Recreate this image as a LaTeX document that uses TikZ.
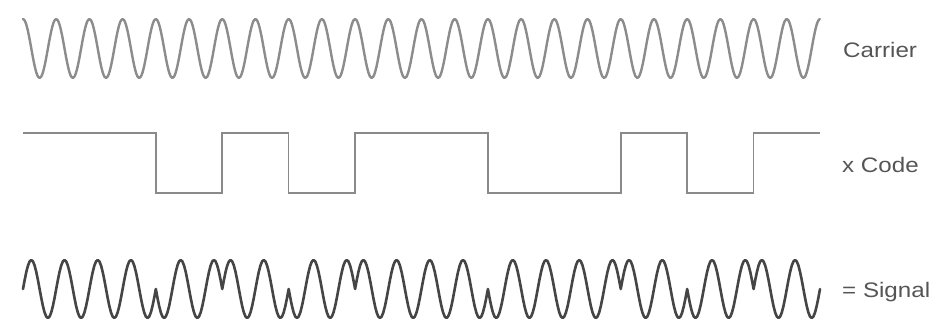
\documentclass[tikz,border=0pt]{standalone}
\usepackage{fontspec}
\setmainfont{Liberation Sans}
\definecolor{carriergray}{HTML}{8C8C8C}
\definecolor{codegray}{HTML}{8A8A8A}
\definecolor{signalgray}{HTML}{454545}
\definecolor{labelgray}{HTML}{555555}
\begin{document}
\begin{tikzpicture}[x=1pt,y=-1pt,
  carrier/.style={draw=carriergray,line width=2.4pt,line join=round,line cap=round},
  codeline/.style={draw=codegray,line width=1.6pt,line join=miter},
  signal/.style={draw=signalgray,line width=2.6pt,line join=round,line cap=round},
  lbl/.style={anchor=base west,inner sep=0pt,text=labelgray,font=\fontsize{21}{25}\selectfont}]
\useasboundingbox[fill=white] (0,0) rectangle (947,331);
\def\P{33.2083}
% carrier
\draw[carrier] plot[domain=0:24,samples=481,smooth] ({23+\P*\x},{48.5-29.5*cos(360*\x)});
% code
\draw[codeline] ({23},133)
  -- ({23+4*\P},133) -- ({23+4*\P},193) -- ({23+6*\P},193) -- ({23+6*\P},133)
  -- ({23+8*\P},133) -- ({23+8*\P},193) -- ({23+10*\P},193) -- ({23+10*\P},133)
  -- ({23+14*\P},133) -- ({23+14*\P},193) -- ({23+18*\P},193) -- ({23+18*\P},133)
  -- ({23+20*\P},133) -- ({23+20*\P},193) -- ({23+22*\P},193) -- ({23+22*\P},133)
  -- ({23+24*\P},133);
% signal
\draw[signal]
  plot[domain=0:4,samples=81] ({23+\P*\x},{289-29*sin(360*\x)})
  -- plot[domain=4:6,samples=41] ({23+\P*\x},{289+29*sin(360*\x)})
  -- plot[domain=6:8,samples=41] ({23+\P*\x},{289-29*sin(360*\x)})
  -- plot[domain=8:10,samples=41] ({23+\P*\x},{289+29*sin(360*\x)})
  -- plot[domain=10:14,samples=81] ({23+\P*\x},{289-29*sin(360*\x)})
  -- plot[domain=14:18,samples=81] ({23+\P*\x},{289+29*sin(360*\x)})
  -- plot[domain=18:20,samples=41] ({23+\P*\x},{289-29*sin(360*\x)})
  -- plot[domain=20:22,samples=41] ({23+\P*\x},{289+29*sin(360*\x)})
  -- plot[domain=22:24,samples=41] ({23+\P*\x},{289-29*sin(360*\x)});
% labels
\node[lbl] (carrierlbl) at (843,58) {\scalebox{1.15}[1]{Carrier}};
\node[lbl] (codelbl) at (842,173) {\scalebox{1.15}[1]{x Code}};
\node[lbl] (signallbl) at (842,297) {\scalebox{1.15}[1]{= Signal}};
\end{tikzpicture}
\end{document}
